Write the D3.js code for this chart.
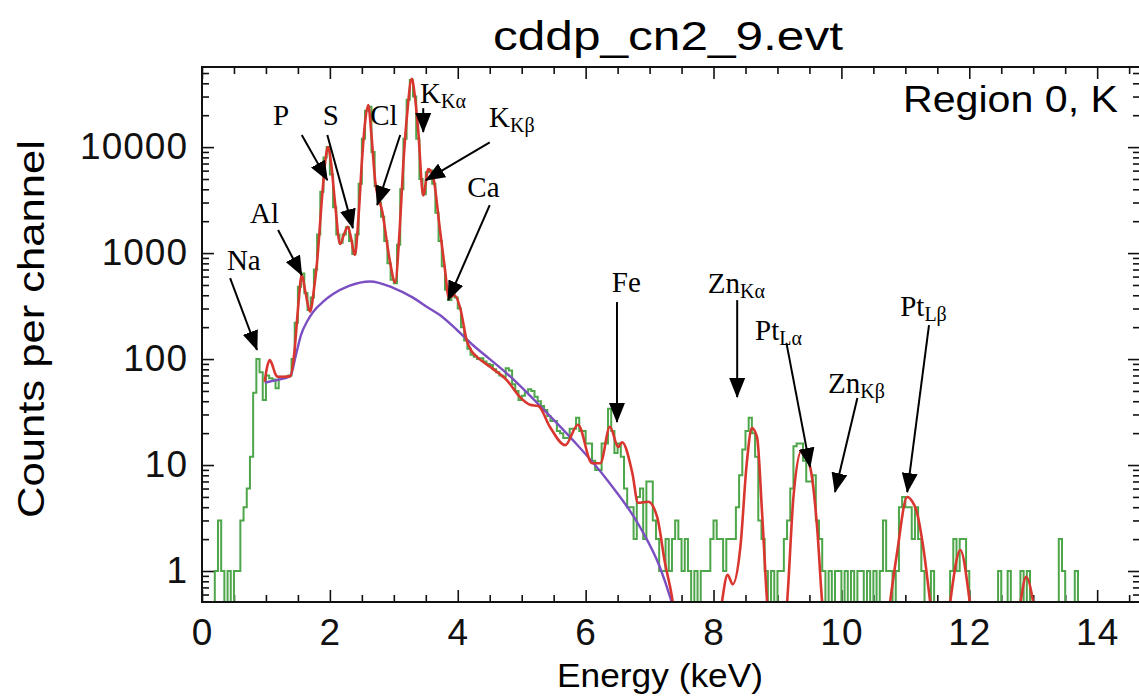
<!DOCTYPE html>
<html>
<head>
<meta charset="utf-8">
<script src="https://cdn.jsdelivr.net/npm/d3@7"></script>
<style>
body { margin: 0; background: #fff; }
</style>
</head>
<body>
<script>
const width = 1139, height = 696;

// spectrum: counts per 0.05 keV channel, starting at 0 keV
const channelWidth = 0.05;
const counts = [
  0,0,0,0, 1,3,1,0,1,0,1,1,
  3,4,6,12,48,100,75,41,
  70,66,64,53,68,66,68,70,
  100,220,480,640,420,290,380,700,
  1500,3800,8000,10000,5500,2700,1500,1250,
  1500,1750,1300,980,1500,4500,12000,22000,
  24000,9000,4300,3000,2200,1300,800,560,
  520,1200,4000,12000,28000,43000,30000,12000,
  5000,3600,5800,6000,4500,2400,1300,750,
  450,360,410,380,300,200,150,125,
  110,105,100,102,95,90,88,80,
  75,70,68,82,78,58,50,41,
  45,49,52,50,44,40,36,33,
  29,26,26,21,20,18,18,22,
  22,28,21,21,16,16,11,9,
  9,16,16,34,21,13,16,12,
  6,4,4,2,5,6,2,7,
  7,3,2,1,1,2,1,2,
  3,2,1,2,1,0,1,0,
  1,1,1,2,3,2,2,1,
  2,2,2,4,8,14,21,28,
  20,12,3,2,1,0,1,0,
  1,1,2,3,6,15,16,16,
  11,7,7,8,3,2,1,0,
  1,0,1,1,0,1,0,1,
  0,1,1,0,1,0,1,0,
  1,3,1,1,0,1,4,5,
  4,4,2,4,2,1,0,0,
  1,0,0,0,0,0,1,2,
  1,2,2,1,0,0,0,0,
  0,0,0,0,0,1,0,0,
  1,0,0,0,1,0,1,0,
  0,0,0,0,0,0,0,0,
  2,1,0,0,0,1,0,0,
  0,0,0,0,0,0,0,0,0,0
];

// fitted model (red)
const fitE = [0.98,1.02,1.06,1.10,1.14,1.19,1.28,1.38,1.44,1.50,1.56,1.62,1.69,1.75,1.80,1.88,1.93,1.97,2.02,2.08,
  2.16,2.22,2.28,2.33,2.39,2.45,2.50,2.55,2.60,2.65,2.71,2.82,2.94,3.02,3.09,3.15,3.21,3.28,3.33,3.38,
  3.46,3.54,3.61,3.72,3.80,3.86,3.95,4.04,4.14,4.22,4.30,4.51,4.77,4.97,5.13,5.26,5.44,5.68,5.88,6.10,
  6.23,6.38,6.51,6.57,6.73,6.82,6.98,7.12,7.24,7.35,7.45,8.05,8.13,8.22,8.30,8.42,8.52,8.60,8.68,8.76,
  8.84,8.92,9.08,9.15,9.25,9.38,9.51,9.62,9.70,9.78,10.68,10.76,10.87,11.03,11.10,11.18,11.28,11.39,11.47,
  11.62,11.70,11.86,12.01,12.09,12.72,12.80,12.89,13.00,13.08,14.67];
const fitC = [61,85,98,88,74,68,68,69,109,290,620,420,280,450,830,3500,7500,10000,7000,3000,
  1220,1500,1770,1400,960,2300,7200,17000,25000,13000,4700,2460,830,530,1600,7200,21000,44000,30000,14800,
  3500,6200,5400,1690,700,380,400,300,150,118,105,84,63,44,37,36,23,15.4,24,10.4,
  10.4,23,14.8,16.4,8.4,4.4,4.5,3.2,1.2,0.57,0.2,0.2,0.5,0.92,0.75,1.68,10.4,22.3,18.4,3.5,
  0.5,0.2,0.2,0.5,5.0,13.8,9.6,2.6,0.5,0.2,0.2,0.5,1.48,5.0,4.6,3.6,1.68,0.5,0.2,
  0.2,0.5,1.58,0.5,0.2,0.2,0.5,0.88,0.5,0.2,0.2];

// continuum model (purple)
const contE = [0.98,1.20,1.38,1.47,1.55,1.65,1.74,1.90,2.05,2.30,2.63,2.99,3.30,3.52,3.72,4.00,4.24,4.50,4.77,5.29,5.80,6.34,6.85,7.16,7.32,7.45];
const contC = [60,64,69,110,170,230,280,350,410,490,540,470,380,310,260,185,135,100,73,36,17.2,7.2,2.6,1.09,0.57,0.3];

// axis ticks
const xMajor = [0,2,4,6,8,10,12,14];
const yMajor = [1,10,100,1000,10000];

// line annotations: label start, arrow tail, arrow tip (keV, counts)
const lineName = ['Na','Al','P','S','Cl','K','K','Ca','Fe','Zn','Pt','Zn','Pt'];
const lineSub  = ['','','','','','Kα','Kβ','','','Kα','Lα','Kβ','Lβ'];
const labelE = [0.39,0.75,1.11,1.89,2.63,3.41,4.49,4.15,6.41,7.91,8.65,9.79,10.92];
const labelC = [690,1920,16100,16100,16100,26000,15400,3380,429,420,151,47.8,255];
const tailE  = [0.44,1.19,1.56,1.96,3.10,3.46,4.50,4.50,6.49,8.37,9.14,10.25,11.37];
const tailC  = [581,1650,13000,13000,13000,23300,11100,2840,345,360,142,42.9,209];
const tipE   = [0.86,1.56,1.96,2.36,2.74,3.46,3.50,3.85,6.49,8.37,9.51,9.90,11.03];
const tipC   = [122,620,4880,1720,2840,13900,4880,360,25.5,43.8,9.6,5.56,5.56];

const svg = d3.select('body')
  .append('svg')
  .attr('width', width)
  .attr('height', height)
  .attr('viewBox', [0, 0, width, height]);

const plotLeft = 202, plotRight = 1140, plotTop = 67, plotBottom = 602;

const x = d3.scaleLinear().domain([0, 14.67]).range([plotLeft, plotRight]);
const y = d3.scaleLog().domain([0.51, 57000]).range([plotBottom, plotTop]);

svg.append('clipPath').attr('id', 'plotclip')
  .append('rect')
  .attr('x', plotLeft).attr('y', plotTop)
  .attr('width', plotRight - plotLeft).attr('height', plotBottom - plotTop);

// ticks
const xMinor = d3.range(0, 14.67, 0.5).filter(v => v % 2 !== 0);
const yMinor = [];
[0.1, 1, 10, 100, 1000, 10000].forEach(d => {
  for (let k = 2; k <= 9; k++) if (d * k > 0.51 && d * k < 57000) yMinor.push(d * k);
});

function styleAxis(g) {
  g.select('.domain').remove();
  g.selectAll('.tick line').attr('stroke', '#111').attr('stroke-width', 1.6);
  g.selectAll('text')
    .attr('font-family', 'Liberation Sans, Arial, sans-serif')
    .attr('font-size', 37)
    .attr('letter-spacing', 1)
    .attr('fill', '#111');
}

svg.append('g').attr('transform', `translate(0,${plotBottom})`)
  .call(d3.axisBottom(x).tickValues(xMajor).tickSize(-12).tickPadding(17).tickFormat(d3.format('d')))
  .call(styleAxis);
svg.append('g').attr('transform', `translate(0,${plotBottom})`)
  .call(d3.axisBottom(x).tickValues(xMinor).tickSize(-7).tickFormat(''))
  .call(styleAxis);
svg.append('g').attr('transform', `translate(0,${plotTop})`)
  .call(d3.axisTop(x).tickValues(xMajor).tickSize(-12).tickFormat(''))
  .call(styleAxis);
svg.append('g').attr('transform', `translate(0,${plotTop})`)
  .call(d3.axisTop(x).tickValues(xMinor).tickSize(-7).tickFormat(''))
  .call(styleAxis);

svg.append('g').attr('transform', `translate(${plotLeft},0)`)
  .call(d3.axisLeft(y).tickValues(yMajor).tickSize(-12).tickPadding(14).tickFormat(d3.format('d')))
  .call(styleAxis);
svg.append('g').attr('transform', `translate(${plotLeft},0)`)
  .call(d3.axisLeft(y).tickValues(yMinor).tickSize(-7).tickFormat(''))
  .call(styleAxis);
svg.append('g').attr('transform', `translate(${plotRight},0)`)
  .call(d3.axisRight(y).tickValues(yMajor).tickSize(-12).tickFormat(''))
  .call(styleAxis);
svg.append('g').attr('transform', `translate(${plotRight},0)`)
  .call(d3.axisRight(y).tickValues(yMinor).tickSize(-7).tickFormat(''))
  .call(styleAxis);

// data
const plot = svg.append('g').attr('clip-path', 'url(#plotclip)');

const steps = counts.map((c, i) => [i * channelWidth, c]);
steps.push([counts.length * channelWidth, counts[counts.length - 1]]);

plot.append('path')
  .datum(steps)
  .attr('fill', 'none')
  .attr('stroke', '#4ea64a')
  .attr('stroke-width', 2)
  .attr('d', d3.line()
    .curve(d3.curveStepAfter)
    .x(d => x(d[0]))
    .y(d => d[1] > 0 ? y(d[1]) : y(0.51)));

plot.append('path')
  .datum(contE.map((e, i) => [e, contC[i]]))
  .attr('fill', 'none')
  .attr('stroke', '#7b4fc2')
  .attr('stroke-width', 2.4)
  .attr('d', d3.line().curve(d3.curveMonotoneX).x(d => x(d[0])).y(d => y(d[1])));

plot.append('path')
  .datum(fitE.map((e, i) => [e, fitC[i]]))
  .attr('fill', 'none')
  .attr('stroke', '#d8362e')
  .attr('stroke-width', 2.6)
  .attr('d', d3.line().curve(d3.curveMonotoneX).x(d => x(d[0])).y(d => y(d[1])));

// frame
svg.append('rect')
  .attr('x', plotLeft).attr('y', plotTop)
  .attr('width', plotRight - plotLeft).attr('height', plotBottom - plotTop)
  .attr('fill', 'none').attr('stroke', '#111').attr('stroke-width', 2);

// arrows
svg.append('defs').append('marker')
  .attr('id', 'head')
  .attr('viewBox', '0 0 20 16')
  .attr('refX', 19).attr('refY', 8)
  .attr('markerWidth', 20).attr('markerHeight', 16)
  .attr('markerUnits', 'userSpaceOnUse')
  .attr('orient', 'auto')
  .append('path').attr('d', 'M0,0 L20,8 L0,16 Z').attr('fill', '#000');

const ann = svg.append('g');
lineName.forEach((name, i) => {
  ann.append('line')
    .attr('x1', x(tailE[i])).attr('y1', y(tailC[i]))
    .attr('x2', x(tipE[i])).attr('y2', y(tipC[i]))
    .attr('stroke', '#000').attr('stroke-width', 2)
    .attr('marker-end', 'url(#head)');
  const t = ann.append('text')
    .attr('x', x(labelE[i])).attr('y', y(labelC[i]))
    .attr('font-family', 'Liberation Serif, Times New Roman, serif')
    .attr('font-size', 29)
    .attr('fill', '#000')
    .text(name);
  if (lineSub[i]) {
    t.append('tspan').attr('font-size', 20).attr('dy', 5).text(lineSub[i]);
  }
});

// texts
svg.append('text')
  .attr('x', 668).attr('y', 50)
  .attr('text-anchor', 'middle')
  .attr('font-family', 'Liberation Sans, Arial, sans-serif')
  .attr('font-size', 40)
  .attr('textLength', 350).attr('lengthAdjust', 'spacingAndGlyphs')
  .text('cddp_cn2_9.evt');

svg.append('text')
  .attr('x', 903).attr('y', 112)
  .attr('font-family', 'Liberation Sans, Arial, sans-serif')
  .attr('font-size', 36)
  .attr('textLength', 215).attr('lengthAdjust', 'spacingAndGlyphs')
  .text('Region 0, K');

svg.append('text')
  .attr('x', 660).attr('y', 687)
  .attr('text-anchor', 'middle')
  .attr('font-family', 'Liberation Sans, Arial, sans-serif')
  .attr('font-size', 33)
  .attr('textLength', 206).attr('lengthAdjust', 'spacingAndGlyphs')
  .text('Energy (keV)');

svg.append('text')
  .attr('transform', 'translate(44,329) rotate(-90)')
  .attr('text-anchor', 'middle')
  .attr('font-family', 'Liberation Sans, Arial, sans-serif')
  .attr('font-size', 36)
  .attr('textLength', 378).attr('lengthAdjust', 'spacingAndGlyphs')
  .text('Counts per channel');
</script>
</body>
</html>
